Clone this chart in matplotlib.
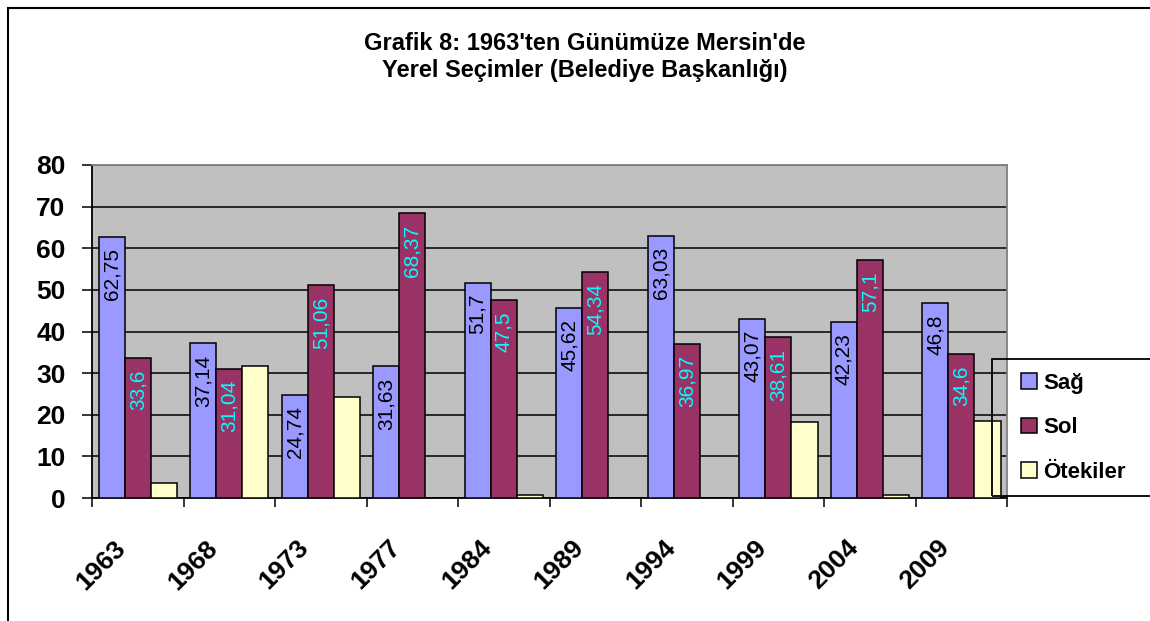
import matplotlib
matplotlib.use("Agg")
import matplotlib.pyplot as plt
from matplotlib.patches import Rectangle, Patch
from matplotlib.transforms import ScaledTranslation
import numpy as np

plt.rcParams['font.family'] = ['Liberation Sans', 'DejaVu Sans']

# veriler
yillar = ['1963', '1968', '1973', '1977', '1984', '1989', '1994', '1999', '2004', '2009']
sag = [62.75, 37.14, 24.74, 31.63, 51.7, 45.62, 63.03, 43.07, 42.23, 46.8]
sol = [33.6, 31.04, 51.06, 68.37, 47.5, 54.34, 36.97, 38.61, 57.1, 34.6]
otekiler = [3.65, 31.82, 24.2, 0.0, 0.8, 0.04, 0.0, 18.32, 0.67, 18.6]
sag_etiket = ['62,75', '37,14', '24,74', '31,63', '51,7', '45,62', '63,03', '43,07', '42,23', '46,8']
sol_etiket = ['33,6', '31,04', '51,06', '68,37', '47,5', '54,34', '36,97', '38,61', '57,1', '34,6']

fig = plt.figure(figsize=(11.5, 6.21), dpi=100)
ax = fig.add_axes([0.080, 0.198, 0.7957, 0.5363])
ax.set_facecolor('#C0C0C0')

x = np.arange(len(yillar))
w = 1 / 3.5
kw = dict(width=w, edgecolor='black', linewidth=1.1, zorder=3)
ax.bar(x - w, sag, color='#9999FF', **kw)
ax.bar(x, sol, color='#993366', **kw)
ax.bar(x + w, otekiler, color='#FFFFCC', **kw)

# bar etiketleri
for xi, v, t in zip(x - w, sag, sag_etiket):
    ax.annotate(t, (xi, v), xytext=(0, -8), textcoords='offset points',
                rotation=90, ha='center', va='top', fontsize=15, color='black', zorder=4)
for xi, v, t in zip(x, sol, sol_etiket):
    ax.annotate(t, (xi, v), xytext=(0, -8), textcoords='offset points',
                rotation=90, ha='center', va='top', fontsize=15, color='#00FFFF', zorder=4)

ax.set_xlim(-0.5, len(yillar) - 0.5)
ax.set_ylim(0, 80)
ax.set_yticks(range(0, 81, 10))
ax.yaxis.grid(True, color='black', linewidth=1.1, zorder=1)
ax.tick_params(axis='y', direction='out', length=7, width=1.1, pad=12, labelsize=19)
for lb in ax.get_yticklabels():
    lb.set_fontweight('bold')

ax.set_xticks(x)
ax.set_xticklabels(yillar, rotation=45, ha='right', va='top', fontsize=19, fontweight='bold')
ax.set_xticks(np.arange(-0.5, len(yillar)), minor=True)
ax.tick_params(axis='x', which='major', length=0, pad=27)
ax.tick_params(axis='x', which='minor', direction='out', length=6.5, width=1.1)
off = ScaledTranslation(-0.07, 0, fig.dpi_scale_trans)
for lb in ax.get_xticklabels():
    lb.set_transform(lb.get_transform() + off)

for s in ['left', 'bottom']:
    ax.spines[s].set_color('black')
    ax.spines[s].set_linewidth(1.3)
for s in ['top', 'right']:
    ax.spines[s].set_color('#808080')
    ax.spines[s].set_linewidth(1.3)

fig.text(0.5087, 0.948, "Grafik 8: 1963'ten Günümüze Mersin'de\nYerel Seçimler (Belediye Başkanlığı)",
         ha='center', va='top', fontsize=17, fontweight='bold', linespacing=1.23)

# lejant (şeffaf, çerçeve ayrı çiziliyor)
handles = [Patch(facecolor=c, edgecolor='black', linewidth=1.1) for c in ['#9999FF', '#993366', '#FFFFCC']]
fig.legend(handles, ['Sağ', 'Sol', 'Ötekiler'], loc='upper left',
           bbox_to_anchor=(1021 / 1150, 1 - 373 / 621), frameon=False,
           handlelength=0.7, handleheight=0.7, handletextpad=0.3,
           labelspacing=1.05, borderpad=0, borderaxespad=0,
           prop={'size': 16, 'weight': 'bold'})
fig.patches.append(Rectangle((992 / 1150, 1 - 496 / 621), 0.2, 137 / 621, transform=fig.transFigure,
                             fill=False, edgecolor='black', linewidth=1.3, zorder=5))

# dış çerçeve
fig.patches.append(Rectangle((8 / 1150, -0.1), 1.2, 1.1 - 8 / 621, transform=fig.transFigure,
                             fill=False, edgecolor='black', linewidth=1.5))

fig.savefig('out.png', dpi=100)
